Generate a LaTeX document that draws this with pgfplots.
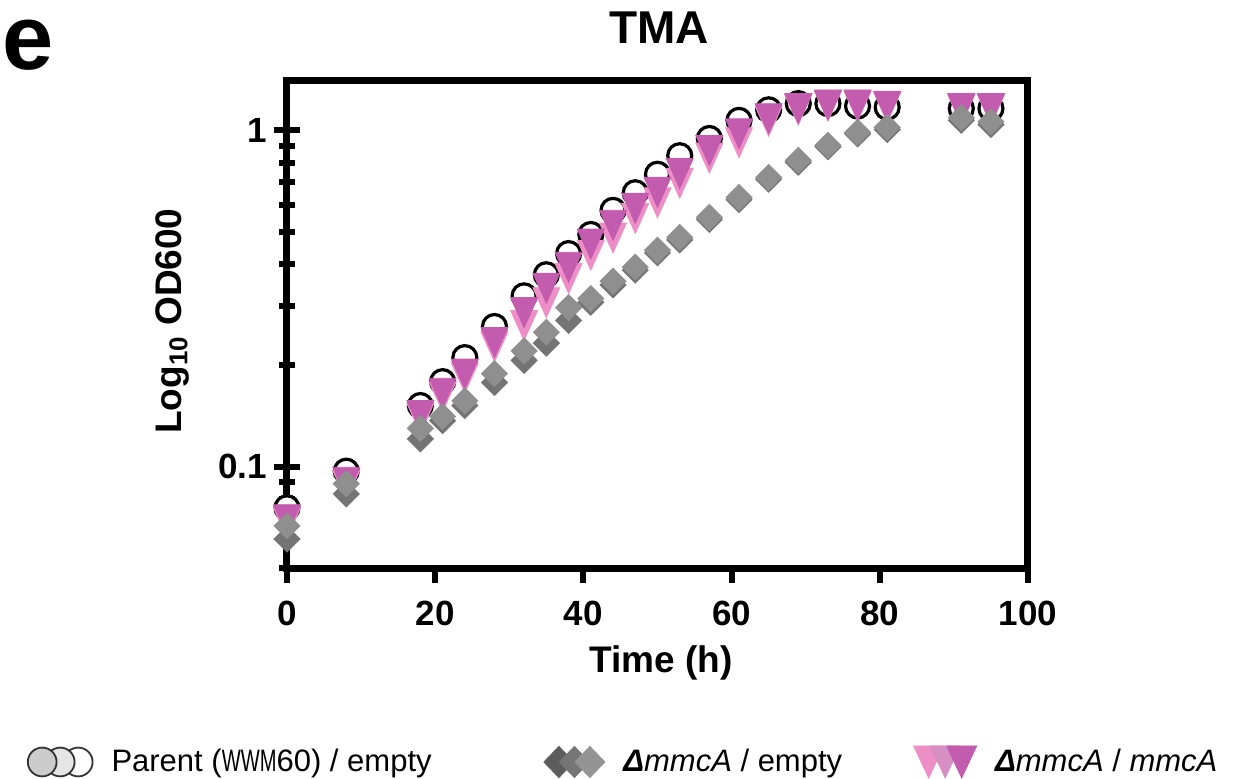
\documentclass[border=0pt]{standalone}
\usepackage{fontspec}
\setmainfont{Liberation Sans}
\usepackage{graphicx}
\usepackage{pgfplots}
\pgfplotsset{compat=1.18}

\definecolor{dmdlight}{HTML}{8F8F8F}
\definecolor{dmddark}{HTML}{747474}
\definecolor{trimag}{HTML}{C35BAE}
\definecolor{tripink}{HTML}{EE8EC6}
\definecolor{trimid}{HTML}{D68FC2}

\pgfplotsset{
  parent/.style={only marks, mark=*, mark size=6pt, color=black,
    mark options={fill=white, draw=black, line width=1.6pt}},
  tri/.style={only marks, color=#1, mark=triangle*, mark size=10pt,
    mark options={rotate=180, xscale=0.78, draw=none, fill=#1}},
  dmd/.style={only marks, color=#1, mark=square*, mark size=4.6pt,
    mark options={rotate=45, draw=none, fill=#1}},
}

\begin{document}
\begin{tikzpicture}
\useasboundingbox (-143.5pt,-105pt) rectangle (481pt,284pt);
\begin{axis}[
  scale only axis, width=370.5pt, height=244pt,
  xmin=0, xmax=100, ymin=0.05, ymax=1.41,
  ymode=log, clip=false,
  axis line style={line width=3.5pt},
  tick style={line width=3pt, black},
  xtick={0,20,40,60,80,100}, xticklabels={0,20,40,60,80,100},
  ytick={0.1,1}, yticklabels={0.1,1},
  minor ytick={0.05,0.06,0.07,0.08,0.09,0.2,0.3,0.4,0.5,0.6,0.7,0.8,0.9},
  xtick pos=bottom, ytick pos=left,
  xtick align=outside, ytick align=center,
  major tick length=13pt, minor tick length=8pt,
  xtick style={/pgfplots/major tick length=7.5pt},
  ticklabel style={font=\fontsize{17.5}{20}\selectfont\bfseries},
  /pgf/number format/assume math mode=true,
  title={TMA},
  title style={at={(axis description cs:0.502,1.082)}, anchor=center,
    font=\fontsize{23}{26}\selectfont\bfseries},
  xlabel={Time (h)},
  xlabel style={at={(axis description cs:0.505,-0.195)}, anchor=center,
    font=\fontsize{18.5}{22}\selectfont\bfseries},
  ylabel={Log\textsubscript{10} OD600},
  ylabel style={at={(axis description cs:-0.155,0.506)}, anchor=center,
    font=\fontsize{18.5}{22}\selectfont\bfseries},
  legend columns=3,
  legend style={at={(axis description cs:-0.351,-0.3975)}, anchor=west,
    draw=none, fill=none, inner sep=0pt, outer sep=0pt,
    font=\fontsize{15.5}{18}\selectfont,
    /tikz/every odd column/.append style={column sep=7pt},
    /tikz/every even column/.append style={column sep=0pt}},
  legend cell align=left,
]
% Parent (WWM60) / empty
\addplot[parent, forget plot] coordinates {
  (0,0.0755)(8,0.097)(18,0.152)(21,0.179)(24,0.211)(28,0.261)(32,0.322)
  (35,0.372)(38,0.43)(41,0.49)(44,0.578)(47,0.652)(50,0.74)(53,0.84)
  (57,0.945)(61,1.07)(65,1.15)(69,1.2)(73,1.2)(77,1.18)(81,1.17)
  (91,1.16)(95,1.16)
};
% dmmcA / mmcA, two replicates
\addplot[tri=tripink, forget plot] coordinates {
  (0,0.0705)(8,0.091)(18,0.144)(21,0.167)(24,0.19)(28,0.235)(32,0.272)
  (35,0.318)(38,0.375)(41,0.44)(44,0.495)(47,0.566)(50,0.63)(53,0.72)
  (57,0.855)(61,0.95)(65,1.1)(69,1.19)(73,1.22)(77,1.22)(81,1.21)
  (91,1.19)(95,1.19)
};
\addplot[tri=trimag, forget plot] coordinates {
  (0,0.072)(8,0.093)(18,0.147)(21,0.171)(24,0.195)(28,0.242)(32,0.297)
  (35,0.351)(38,0.405)(41,0.475)(44,0.54)(47,0.607)(50,0.677)(53,0.77)
  (57,0.9)(61,1.01)(65,1.12)(69,1.2)(73,1.23)(77,1.23)(81,1.22)
  (91,1.2)(95,1.2)
};
% dmmcA / empty, two replicates
\addplot[dmd=dmddark, forget plot] coordinates {
  (0,0.061)(8,0.083)(18,0.121)(21,0.137)(24,0.152)(28,0.178)(32,0.207)
  (35,0.233)(38,0.272)(41,0.308)(44,0.347)(47,0.384)(50,0.432)(53,0.472)
  (57,0.543)(61,0.622)(65,0.715)(69,0.803)(73,0.893)(77,0.975)(81,1.005)
  (91,1.07)(95,1.04)
};
\addplot[dmd=dmdlight, forget plot] coordinates {
  (0,0.0667)(8,0.089)(18,0.13)(21,0.141)(24,0.157)(28,0.189)(32,0.221)
  (35,0.251)(38,0.297)(41,0.316)(44,0.356)(47,0.392)(50,0.44)(53,0.48)
  (57,0.551)(61,0.631)(65,0.724)(69,0.814)(73,0.902)(77,0.986)(81,1.02)
  (91,1.09)(95,1.06)
};

% legend: three overlapping replicate symbols per strain
\addlegendimage{legend image code/.code={
  \draw[line width=0.9pt, draw=black!80, fill=white] (25.5pt,0pt) circle (7.2pt);
  \draw[line width=0.9pt, draw=black!80, fill=black!10] (16.5pt,0pt) circle (7.2pt);
  \draw[line width=0.9pt, draw=black!80, fill=black!20] (7.5pt,0pt) circle (7.2pt);
}}
\addlegendentry{\makebox[214pt][l]{Parent (\scalebox{0.65}[1]{WWM}60) / empty}}
\addlegendimage{legend image code/.code={
  \fill[black!64] (0pt,0pt) -- (7.5pt,7.8pt) -- (15pt,0pt) -- (7.5pt,-7.8pt) -- cycle;
  \fill[black!54] (7.75pt,0pt) -- (15.25pt,7.8pt) -- (22.75pt,0pt) -- (15.25pt,-7.8pt) -- cycle;
  \fill[black!42] (15.5pt,0pt) -- (23pt,7.8pt) -- (30.5pt,0pt) -- (23pt,-7.8pt) -- cycle;
}}
\addlegendentry{\makebox[143pt][l]{\textbf{\textit{Δ}}\textit{mmcA} / empty}}
\addlegendimage{legend image code/.code={
  \fill[tripink] (0pt,8pt) -- (15pt,8pt) -- (7.5pt,-8pt) -- cycle;
  \fill[trimid] (8.25pt,8pt) -- (23.25pt,8pt) -- (15.75pt,-8pt) -- cycle;
  \fill[trimag] (16.5pt,8pt) -- (31.5pt,8pt) -- (24pt,-8pt) -- cycle;
}}
\addlegendentry{\textbf{\textit{Δ}}\textit{mmcA} / \textit{mmcA}}

% panel letter
\node[anchor=west, inner sep=0pt, font=\fontsize{46}{48}\selectfont\bfseries]
  at (axis description cs:-0.384,1.072) {e};
\end{axis}
\end{tikzpicture}
\end{document}
